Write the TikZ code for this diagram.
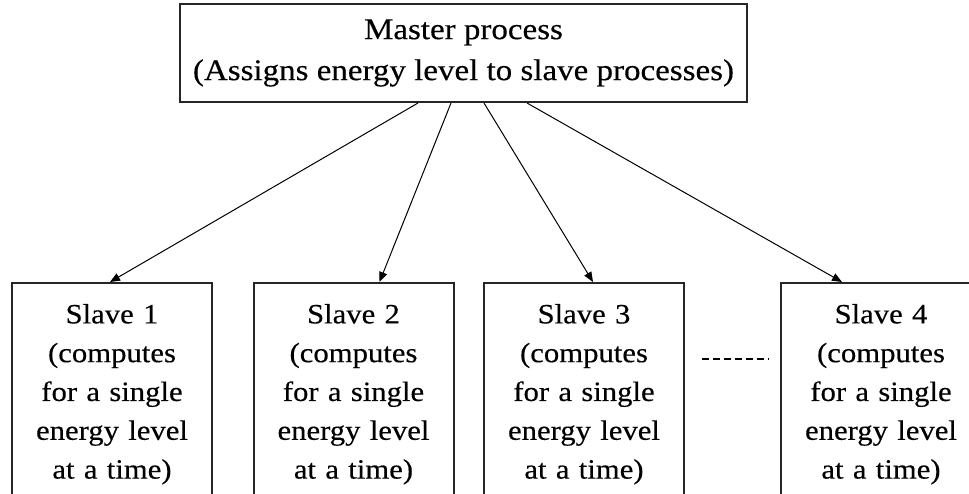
\documentclass[tikz,border=0pt]{standalone}
\usepackage{fontspec}
\setmainfont[FakeStretch=1.1,FakeBold=0.35]{Liberation Serif}
\usetikzlibrary{arrows.meta}
\begin{document}
\begin{tikzpicture}[x=1pt,y=-1pt,
  box/.style={draw=black!85, line width=2pt, fill=white, inner sep=0pt, align=center},
  masterbox/.style={box, minimum width=567pt, minimum height=98pt,
    font=\fontsize{30pt}{44pt}\selectfont},
  slavebox/.style={box, minimum width=200pt, inner ysep=21pt, text width=200pt,
    font=\fontsize{27.9pt}{38.8pt}\selectfont},
  link/.style={line width=1pt, -{Triangle[length=10pt,width=8pt]}},
  dots/.style={line width=1.4pt, dash pattern=on 7pt off 4pt}]
  \useasboundingbox (0,0) rectangle (969,493);
  \clip (0,0) rectangle (969,493);
  \fill[white] (0,0) rectangle (969,493);

  % master process
  \node[masterbox] (m) at (463.5,53) {\raisebox{-3pt}{Master process}\\(Assigns energy level to slave processes)};

  % slave processes
  \node[slavebox, anchor=north] (s1) at (112,282) {Slave 1\\(computes\\for a single\\energy level\\at a time)};
  \node[slavebox, anchor=north] (s2) at (353.5,282) {Slave 2\\(computes\\for a single\\energy level\\at a time)};
  \node[slavebox, anchor=north] (s3) at (584,282) {Slave 3\\(computes\\for a single\\energy level\\at a time)};
  \node[slavebox, anchor=north] (s4) at (881,282) {Slave 4\\(computes\\for a single\\energy level\\at a time)};

  % assignments from the master to each slave
  \draw[link] ([xshift=239pt]m.south west) -- ([xshift=-2pt]s1.north);
  \draw[link] ([xshift=272pt]m.south west) -- ([xshift=26pt]s2.north);
  \draw[link] ([xshift=305pt]m.south west) -- ([xshift=9pt]s3.north);
  \draw[link] ([xshift=348pt]m.south west) -- ([xshift=-39pt]s4.north);

  % further slaves
  \coordinate (d1) at (702,359);
  \coordinate (d2) at (769,359);
  \draw[dots] (d1) -- (d2);
\end{tikzpicture}
\end{document}
